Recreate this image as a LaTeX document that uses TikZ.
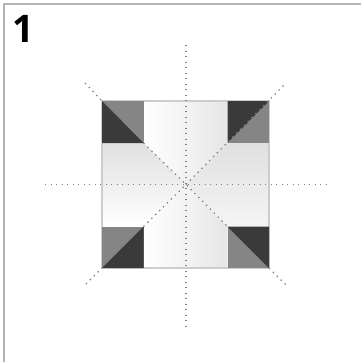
\documentclass[tikz,border=0pt]{standalone}
\usepackage{fontspec}
\setmainfont{Open Sans}
\usetikzlibrary{calc}
\definecolor{fdFrame}{HTML}{B4B4B4}
\definecolor{fdEdge}{HTML}{CDCDCD}
\definecolor{fdDark}{HTML}{3A3A3A}
\definecolor{fdMid}{HTML}{858585}
\definecolor{fdPanel}{HTML}{E0E0E0}
\definecolor{fdPanelH}{HTML}{E6E6E6}
\definecolor{fdDot}{HTML}{808080}
\tikzset{
  frameline/.style={draw=fdFrame, line width=1.2pt},
  squareedge/.style={draw=fdEdge, line width=1.6pt},
  darkpart/.style={fill=fdDark},
  midpart/.style={fill=fdMid},
  foldline/.style={draw=fdDot, line width=1.2pt, dash pattern=on 1.4pt off 4.1pt},
  panelh/.style={left color=white, right color=fdPanelH},
  panelv/.style={top color=fdPanel, bottom color=white},
  panelw/.style={top color=fdPanel, bottom color=white!96!black},
  numlabel/.style={font=\bfseries\fontsize{38}{38}\selectfont, text=black, inner sep=0pt},
}
\begin{document}
\begin{tikzpicture}[x=1pt,y=-1pt]
\useasboundingbox (0,0) rectangle (361,362);
\coordinate (nw) at (102,101);
\coordinate (ne) at (269,101);
\coordinate (sw) at (102,268);
\coordinate (se) at (269,268);
\coordinate (mid) at (186,184.5);
\coordinate (inw) at (143.5,143);
\coordinate (ine) at (227.5,143);
\coordinate (isw) at (143.5,226.5);
\coordinate (ise) at (227.5,226.5);

% frame
\draw[frameline] (4,362) -- (4,4) -- (361,4);
\node[numlabel] (num) at (23,29) {1};

% panels
\shade[panelh] (inw |- nw) -- (ine |- ne) -- (ine) -- (mid) -- (inw) -- cycle;
\shade[panelh] (isw) -- (mid) -- (ise) -- (ise |- se) -- (isw |- sw) -- cycle;
\shade[panelv] (nw |- inw) -- (inw) -- (mid) -- (isw) -- (sw |- isw) -- cycle;
\shade[panelw] (ne |- ine) -- (ine) -- (mid) -- (ise) -- (se |- ise) -- cycle;
\draw[squareedge] (nw) rectangle (se);

% corners
\fill[midpart] (nw) rectangle (inw);
\fill[darkpart] (nw) -- (inw) -- (nw |- inw) -- cycle;
\fill[midpart] (ne) rectangle (ine);
\fill[darkpart] (ne) -- (ine) -- (ine |- ne) -- cycle;
\fill[midpart] (sw) rectangle (isw);
\fill[darkpart] (sw) -- (isw) -- (isw |- sw) -- cycle;
\fill[midpart] (se) rectangle (ise);
\fill[darkpart] (se) -- (ise) -- (se |- ise) -- cycle;

% fold lines
\draw[foldline] (186,45) -- (186,326);
\draw[foldline] (45,184.5) -- (327,184.5);
\draw[foldline] (85,83) -- (nw);
\draw[foldline] (inw) -- (mid) -- (ise);
\draw[foldline] (se) -- (286,285);
\draw[foldline] (86,284) -- (sw);
\draw[foldline] (isw) -- (mid);
\draw[foldline] (mid) -- (286,83);
\end{tikzpicture}
\end{document}
